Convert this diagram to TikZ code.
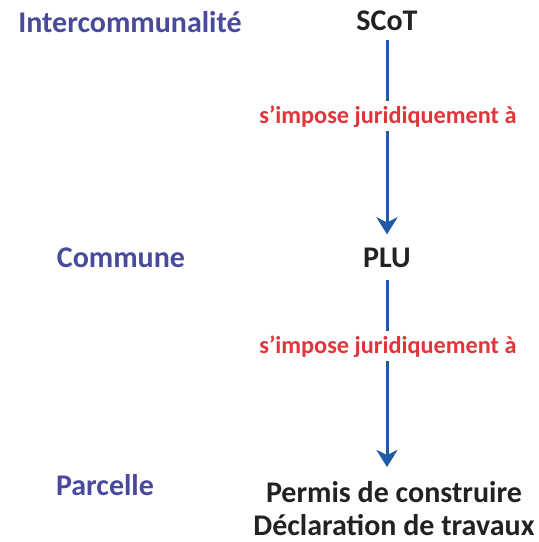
\documentclass[tikz,border=0pt]{standalone}
\usepackage{fontspec}
\setmainfont{Carlito}
\usepackage{tikz}
\usetikzlibrary{arrows.meta}
\definecolor{levelblue}{HTML}{4A4A9C}
\definecolor{imposered}{HTML}{E0353A}
\definecolor{arrowblue}{HTML}{1F5AA6}
\definecolor{docgrey}{HTML}{222222}

\begin{document}
\begin{tikzpicture}[x=1pt, y=1pt,
    level/.style={text=levelblue, font=\fontsize{30}{34}\selectfont\bfseries, inner sep=0pt},
    doc/.style={text=docgrey, font=\fontsize{30}{33}\selectfont\bfseries, inner sep=0pt, align=center},
    impose/.style={text=imposered, font=\fontsize{24.3}{30}\selectfont\bfseries, fill=white, inner sep=4pt},
    link/.style={draw=arrowblue, line width=3pt, -{Stealth[length=17pt, width=21pt, inset=5pt]}}]
    \useasboundingbox (0,0) rectangle (539,-542);

    % levels
    \node[level, anchor=base] (inter) at (130,-32) {Intercommunalité};
    \node[level, anchor=base] (commune) at (121,-267) {Commune};
    \node[level, anchor=base] (parcelle) at (105,-495) {Parcelle};

    % documents
    \node[doc, anchor=base] (scot) at (387,-30) {SCoT};
    \node[doc, anchor=base] (plu) at (387,-267) {PLU};
    \node[doc, anchor=north] (permis) at (394,-481)
        {Permis de construire\\Déclaration de travaux};

    % arrows
    \draw[link, shorten <=10pt, shorten >=13pt] (scot) -- (plu);
    \draw[link, shorten <=13pt, shorten >=14pt] (plu) -- (plu |- permis.north);

    \node[impose, anchor=base] (impose1) at (388,-123) {s’impose juridiquement à};
    \node[impose, anchor=base] (impose2) at (388,-353) {s’impose juridiquement à};
\end{tikzpicture}
\end{document}
